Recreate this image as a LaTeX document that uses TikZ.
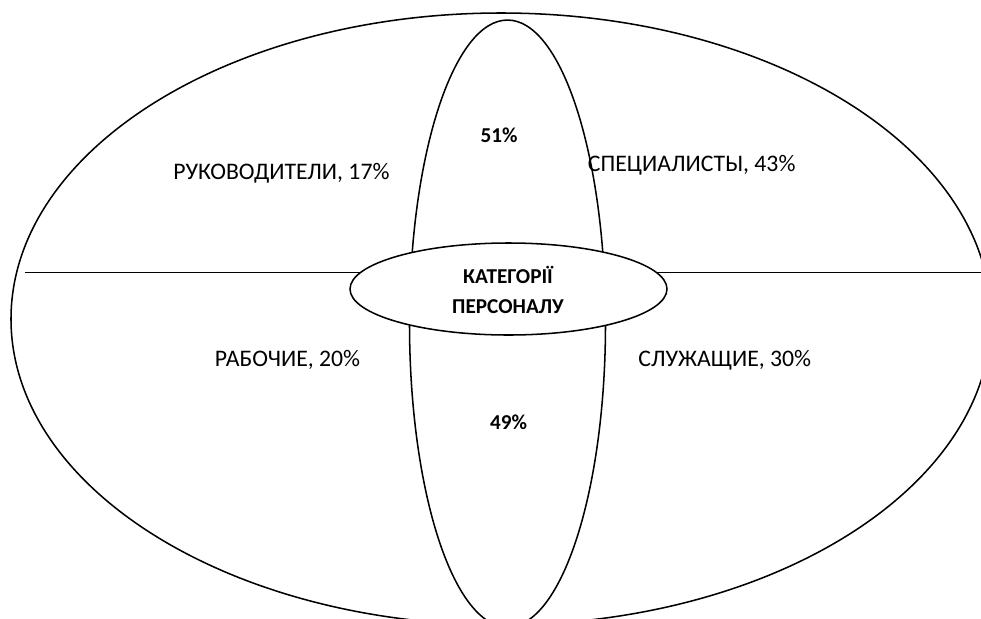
\documentclass[tikz,border=0pt]{standalone}
\usepackage{fontspec}
\setmainfont{Carlito}
\usetikzlibrary{shapes.geometric}
\tikzset{
  outline/.style={draw=black, line width=1.15pt},
  lbl/.style={inner sep=0pt, anchor=base, font=\fontsize{17.8}{21}\selectfont},
  blbl/.style={inner sep=0pt, anchor=base, font=\fontsize{15.9}{19}\selectfont\bfseries},
}
\begin{document}
\begin{tikzpicture}[x=0.75pt,y=-0.75pt]
\useasboundingbox (0,0) rectangle (981,618);
\clip (0,0) rectangle (981,618);
\fill[white] (0,0) rectangle (981,618);
% outer ellipse
\draw[outline] (501,319) ellipse [x radius=367.5pt, y radius=229.5pt];
% vertical ellipse
\draw[outline] (507.5,323.5) ellipse [x radius=73.5pt, y radius=227.6pt];
% horizontal divider
\coordinate (hl) at (25,272.5);
\coordinate (hr) at (981,272.5);
\coordinate (tl) at (748,272.5);
\coordinate (tr) at (923,272.5);
\draw[outline] (hl) -- (hr);
\draw[line width=1.45pt] (tl) -- (tr);
% central ellipse
\node[ellipse, outline, fill=white, minimum width=237.75pt, minimum height=69pt, inner sep=0pt] (cat) at (508.5,289) {};
\node[blbl] (t1) at (508,283.3) {КАТЕГОРІЇ};
\node[blbl] (t2) at (508,313.3) {ПЕРСОНАЛУ};
% labels
\node[lbl] (ruk) at (281.4,179.3) {РУКОВОДИТЕЛИ, 17\%};
\node[lbl] (spec) at (691.7,171.7) {СПЕЦИАЛИСТЫ, 43\%};
\node[lbl] (rab) at (287.5,366.7) {РАБОЧИЕ, 20\%};
\node[lbl] (sl) at (724.8,366.7) {СЛУЖАЩИЕ, 30\%};
\node[blbl] (p51) at (499,142.5) {51\%};
\node[blbl] (p49) at (508.5,429) {49\%};
\end{tikzpicture}
\end{document}
